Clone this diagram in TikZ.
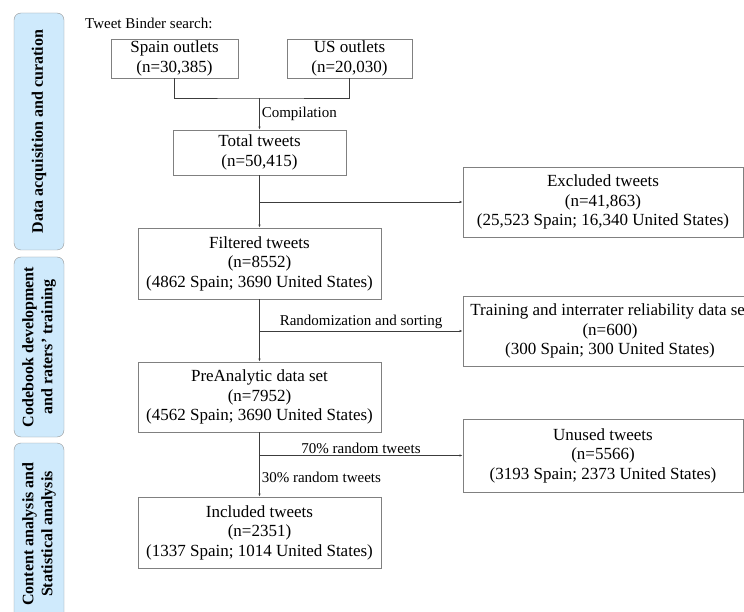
\documentclass[tikz,border=0pt]{standalone}
\usepackage{fontspec}
\setmainfont{Liberation Serif}
\usetikzlibrary{arrows.meta,positioning}
\definecolor{bandblue}{RGB}{207,234,252}
\definecolor{bandedge}{RGB}{150,150,150}
\definecolor{boxedge}{RGB}{128,128,128}
\definecolor{lineclr}{RGB}{60,60,60}

\begin{document}
\begin{tikzpicture}[x=1pt,y=-1pt,
    stagebox/.style={draw=bandedge, fill=bandblue, rounded corners=7pt, rotate=90,
        minimum height=50pt, align=center, inner sep=0pt,
        font=\fontsize{16}{19}\selectfont\bfseries},
    box/.style={draw=boxedge, line width=0.8pt, align=center, inner sep=0pt,
        font=\fontsize{17}{19.5}\selectfont},
    lbl/.style={font=\fontsize{15}{17}\selectfont, inner sep=2pt},
    link/.style={draw=lineclr, line width=0.6pt},
    arr/.style={link, -{Latex[length=3pt,width=2.4pt]}}]
    \useasboundingbox (0,0) rectangle (744,612);
    \clip (0,0) rectangle (744,612);

    % Stages
    \node[stagebox, minimum width=237pt] (stageA) at (39,131.5) {Data acquisition and curation};
    \node[stagebox, minimum width=180pt] (stageB) at (39,347) {Codebook development\\and raters' training};
    \node[stagebox, minimum width=182pt] (stageC) at (39,534) {Content analysis and\\Statistical analysis};

    % Main column
    \node[lbl, anchor=west] (search) at (83,23) {Tweet Binder search:};
    \node[box, minimum width=127pt, minimum height=39pt] (spain) at (174.5,58.5) {Spain outlets\\(n=30,385)};
    \node[box, minimum width=125pt, minimum height=39pt] (us) at (349.5,58.5) {US outlets\\(n=20,030)};
    \node[box, minimum width=173pt, minimum height=45pt] (total) at (259.5,152.5) {Total tweets\\(n=50,415)};
    \node[box, minimum width=243pt, minimum height=71pt] (filtered) at (259.5,263.5) {Filtered tweets\\(n=8552)\\(4862 Spain; 3690 United States)};
    \node[box, minimum width=243pt, minimum height=70pt] (preset) at (259.5,397) {PreAnalytic data set\\(n=7952)\\(4562 Spain; 3690 United States)};
    \node[box, minimum width=243pt, minimum height=71pt] (included) at (259.5,532.5) {Included tweets\\(n=2351)\\(1337 Spain; 1014 United States)};

    % Side boxes
    \node[box, minimum width=280pt, minimum height=70pt] (excluded) at (603,202) {Excluded tweets\\(n=41,863)\\(25,523 Spain; 16,340 United States)};
    \node[box, minimum width=294pt, minimum height=70pt] (training) at (610,331) {Training and interrater reliability data set\\(n=600)\\(300 Spain; 300 United States)};
    \node[box, minimum width=280pt, minimum height=73pt] (unused) at (603,455.5) {Unused tweets\\(n=5566)\\(3193 Spain; 2373 United States)};

    % Branch points
    \coordinate (merge) at (259.5,98);
    \coordinate (cut) at (259.5,202);
    \coordinate (sample) at (259.5,331);
    \coordinate (split) at (259.5,455.5);

    % Connectors
    \draw[link] (spain.south) |- (merge) -| (us.south);
    \draw[arr] (merge) -- node[lbl, right] {Compilation} (total.north);
    \draw[arr] (total) -- (filtered);
    \draw[arr] (cut) -- (excluded);
    \draw[arr] (filtered) -- (preset);
    \draw[arr] (sample) -- node[lbl, above] {Randomization and sorting} (training);
    \draw[arr] (preset) -- node[lbl, right, pos=0.7] {30\% random tweets} (included);
    \draw[arr] (split) -- node[lbl, above] {70\% random tweets} (unused);
\end{tikzpicture}
\end{document}
